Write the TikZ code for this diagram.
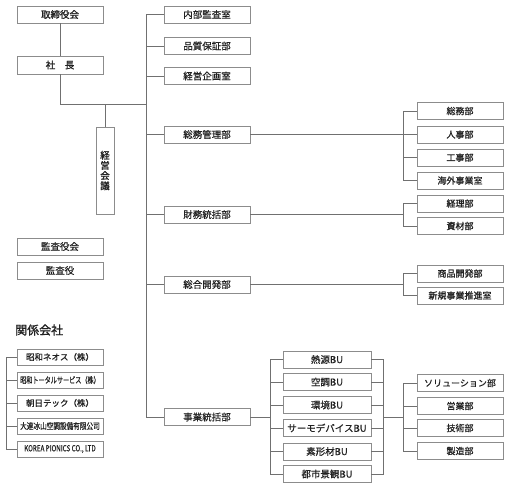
\documentclass[tikz,border=0pt]{standalone}
\usepackage{fontspec}
\setmainfont{Noto Sans CJK JP}
\newfontfamily\regf{Noto Sans CJK JP}[RawFeature={embolden=0.6}]
\newfontfamily\boldf{Noto Sans CJK JP}[RawFeature={embolden=1.3}]
\usetikzlibrary{calc}
\definecolor{ln}{HTML}{707070}
\definecolor{bd}{HTML}{8C8C8C}
\definecolor{tx}{HTML}{222222}
\begin{document}
\begin{tikzpicture}[x=1pt,y=-1pt,
  box/.style={draw=bd, line width=0.8pt, fill=white, text=tx, minimum width=86pt, minimum height=17pt, inner sep=0pt, font=\regf\fontsize{9.5}{10}\selectfont},
  bbox/.style={box, font=\boldf\fontsize{9.5}{10}\selectfont},
  sub/.style={box, font=\regf\fontsize{9}{10}\selectfont},
  bsub/.style={box, font=\boldf\fontsize{9}{10}\selectfont},
  bu/.style={box, minimum width=88pt},
  aff/.style={box, minimum height=16pt, font=\regf\fontsize{8.5}{10}\selectfont},
  con/.style={draw=ln, line width=0.8pt}]
\useasboundingbox (0,0) rectangle (509,491);

% left column
\node[bbox] (tori) at (60,14.5) {取締役会};
\node[bbox, minimum height=18pt] (shacho) at (60,65) {社　長};
\node[bbox, minimum width=18pt, minimum height=87pt, align=center, font=\boldf\fontsize{9.5}{10.2}\selectfont] (keiei) at (105,170.5) {経\\営\\会\\議};
\node[box] (kansakai) at (60,246.5) {監査役会};
\node[box] (kansa) at (60,270.5) {監査役};
\node[anchor=west, text=tx, inner sep=0pt, font=\boldf\fontsize{12}{13}\selectfont] (kankei) at (15,330) {関係会社};

% affiliates
\node[aff] (a1) at (60,357) {昭和ネオス（株）};
\node[aff] (a2) at (60,380) {\scalebox{0.72}[1]{昭和トータルサービス（株）}};
\node[aff] (a3) at (60,403) {朝日テック（株）};
\node[aff] (a4) at (60,426) {\scalebox{0.78}[1]{大連冰山空調設備有限公司}};
\node[aff] (a5) at (60,449) {\scalebox{0.74}[1]{KOREA PIONICS CO., LTD}};

% first level
\node[box] (naibu) at (207,14.5) {内部監査室};
\node[box] (hinshitsu) at (207,46) {品質保証部};
\node[box] (kikaku) at (207,76) {経営企画室};
\node[box] (somukanri) at (207,134.5) {総務管理部};
\node[box] (zaimu) at (207,214.5) {財務統括部};
\node[box] (sogo) at (207,284.5) {総合開発部};
\node[box] (jigyo) at (207,417) {事業統括部};

% second level right
\node[sub] (somu) at (460,111) {総務部};
\node[bsub] (jinji) at (460,134.5) {人事部};
\node[bsub] (koji) at (460,157.5) {工事部};
\node[sub] (kaigai) at (460,180.5) {海外事業室};
\node[bsub] (keiri) at (460,203.5) {経理部};
\node[bsub] (shizai) at (460,226) {資材部};
\node[bsub] (shohin) at (460,273.5) {商品開発部};
\node[bsub] (shinki) at (460,295.5) {新規事業推進室};
\node[sub] (sol) at (460,383) {ソリューション部};
\node[sub] (eigyo) at (460,406) {営業部};
\node[sub] (gijutsu) at (460,428) {技術部};
\node[sub] (seizo) at (460,451) {製造部};

% BU
\node[bu] (bu1) at (327,359.5) {熱源BU};
\node[bu] (bu2) at (327,382) {空調BU};
\node[bu] (bu3) at (327,405) {環境BU};
\node[bu] (bu4) at (327,428) {サーモデバイスBU};
\node[bu] (bu5) at (327,451.5) {素形材BU};
\node[bu] (bu6) at (327,474) {都市景観BU};

% helper coordinates
\coordinate (hub) at (146,104);
\coordinate (bx) at (403,0);
\coordinate (bux) at (270,0);
\coordinate (brx) at (383,0);
\coordinate (ax) at (6,0);
\coordinate (mid) at (383,417);

% connectors
\draw[con] (tori.south) -- (shacho.north);
\draw[con] (shacho.south) |- (hub);
\draw[con] (keiei.north) -- (keiei.north |- hub);
\draw[con] (naibu.west) -| (jigyo.west -| hub) -- (jigyo.west);
\foreach \n in {hinshitsu,kikaku,somukanri,zaimu,sogo}
  \draw[con] (\n.west) -- (\n.west -| hub);

\draw[con] (somukanri.east) -- (jinji.west);
\draw[con] (somu.west) -- (somu.west -| bx) -- (kaigai.west -| bx) -- (kaigai.west);
\draw[con] (koji.west) -- (koji.west -| bx);

\draw[con] (zaimu.east) -- (zaimu.east -| bx);
\draw[con] (keiri.west) -- (keiri.west -| bx) -- (shizai.west -| bx) -- (shizai.west);

\draw[con] (sogo.east) -- (sogo.east -| bx);
\draw[con] (shohin.west) -- (shohin.west -| bx) -- (shinki.west -| bx) -- (shinki.west);

\draw[con] (jigyo.east) -- (jigyo.east -| bux);
\draw[con] (bu1.west) -- (bu1.west -| bux) -- (bu6.west -| bux) -- (bu6.west);
\foreach \n in {bu2,bu3,bu4,bu5}
  \draw[con] (\n.west) -- (\n.west -| bux);

\draw[con] (bu1.east) -- (bu1.east -| brx) -- (bu6.east -| brx) -- (bu6.east);
\foreach \n in {bu2,bu3,bu4,bu5}
  \draw[con] (\n.east) -- (\n.east -| brx);
\draw[con] (mid) -- (mid -| bx);
\draw[con] (sol.west) -- (sol.west -| bx) -- (seizo.west -| bx) -- (seizo.west);
\foreach \n in {eigyo,gijutsu}
  \draw[con] (\n.west) -- (\n.west -| bx);

\draw[con] (a1.west) -- (a1.west -| ax) -- (a5.west -| ax) -- (a5.west);
\foreach \n in {a2,a3,a4}
  \draw[con] (\n.west) -- (\n.west -| ax);
\end{tikzpicture}
\end{document}
